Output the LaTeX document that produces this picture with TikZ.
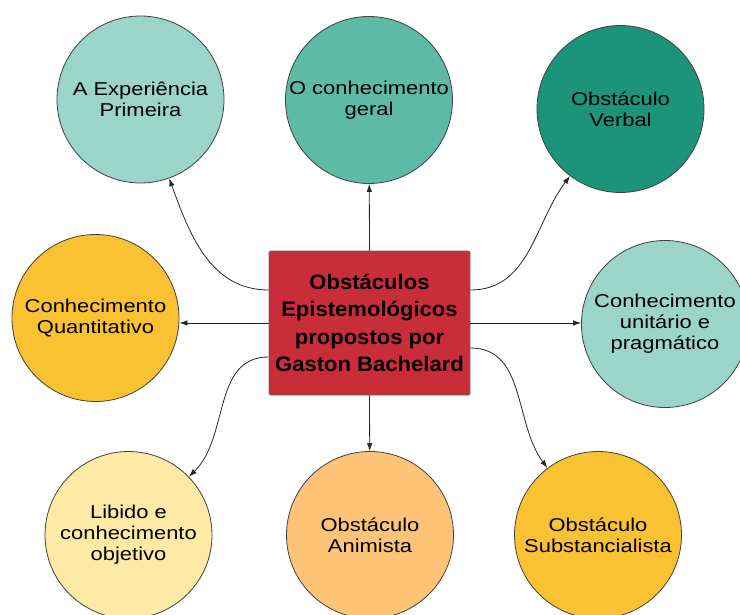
\documentclass[tikz,border=0pt]{standalone}
\usepackage{fontspec}
\setmainfont{Liberation Sans}[FakeStretch=1.18]
\newfontfamily\boxfont{Liberation Sans}[FakeStretch=1.05]
\usetikzlibrary{arrows.meta}
\begin{document}
\begin{tikzpicture}[x=1pt, y=-1pt,
    bubble/.style={circle, draw=black!75, line width=0.8pt, minimum size=167pt, inner sep=0pt, align=center, font=\fontsize{18.6}{21}\selectfont},
    link/.style={draw=black!85, line width=0.8pt, -{Latex[length=8pt,width=5.5pt]}}]
    % Define colors
    \definecolor{paleTeal}{RGB}{155,213,202}
    \definecolor{midTeal}{RGB}{92,186,167}
    \definecolor{darkTeal}{RGB}{27,148,121}
    \definecolor{goldColor}{RGB}{250,193,51}
    \definecolor{creamColor}{RGB}{254,234,165}
    \definecolor{peachColor}{RGB}{253,196,119}
    \definecolor{boxRed}{RGB}{201,45,57}
    % Page size
    \useasboundingbox (0,0) rectangle (740,614);
    % Central box
    \node[rectangle, rounded corners=2pt, draw=black!60, line width=0.8pt, fill=boxRed,
          minimum width=201pt, minimum height=144pt, align=center,
          font=\boxfont\bfseries\fontsize{21}{27.5}\selectfont] (bachelard) at (369.5,323)
          {Obstáculos\\Epistemológicos\\propostos por\\Gaston Bachelard};
    % Obstacle circles
    \node[bubble, fill=paleTeal] (experiencia) at (140.5,99.5) {A Experiência\\Primeira};
    \node[bubble, fill=midTeal] (geral) at (369,100) {O conhecimento\\geral};
    \node[bubble, fill=darkTeal] (verbal) at (620.5,109) {Obstáculo\\Verbal};
    \node[bubble, fill=goldColor] (quantitativo) at (95.5,318) {Conhecimento\\Quantitativo};
    \node[bubble, fill=paleTeal] (unitario) at (665,324) {Conhecimento\\unitário e\\pragmático};
    \node[bubble, fill=creamColor] (libido) at (128.5,535) {Libido e\\conhecimento\\objetivo};
    \node[bubble, fill=peachColor] (animista) at (370,535) {Obstáculo\\Animista};
    \node[bubble, fill=goldColor] (substancialista) at (598,535) {Obstáculo\\Substancialista};
    % Connectors
    \draw[link] ([yshift=33pt]bachelard.west) to[out=180, in=-70] (experiencia);
    \draw[link] (bachelard.north) -- (geral);
    \draw[link] ([yshift=33pt]bachelard.east) to[out=0, in=-127] (verbal);
    \draw[link] (bachelard.west) -- (bachelard.west -| quantitativo.east);
    \draw[link] (bachelard.east) -- (bachelard.east -| unitario.west);
    \draw[link] ([yshift=-34pt]bachelard.west) to[out=180, in=44] (libido);
    \draw[link] (bachelard.south) -- (animista);
    \draw[link] ([yshift=-25pt]bachelard.east) to[out=0, in=127] (substancialista);
\end{tikzpicture}
\end{document}
